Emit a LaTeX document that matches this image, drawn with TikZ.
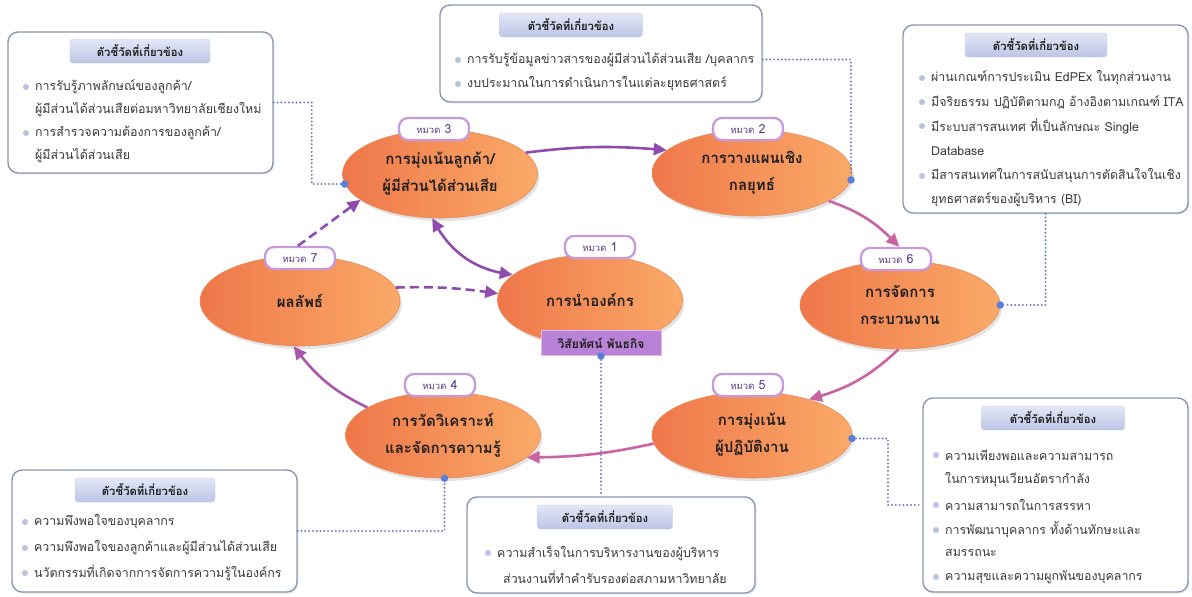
\documentclass[tikz,border=0pt]{standalone}
\usepackage{fontspec}
\setmainfont{Loma}[Script=Thai]
\usetikzlibrary{shapes.geometric,arrows.meta,shadows,bending}
\definecolor{oraL}{HTML}{EF774A}
\definecolor{oraR}{HTML}{FAAA68}
\definecolor{oraD}{HTML}{E98A5A}
\definecolor{tabB}{HTML}{C79BDB}
\definecolor{tabT}{HTML}{5B3A8C}
\definecolor{arrP}{HTML}{8E4DAE}
\definecolor{arrK}{HTML}{C963A3}
\definecolor{arrM}{HTML}{A957A8}
\definecolor{boxB}{HTML}{8A97B0}
\definecolor{pillT}{HTML}{E3E7F6}
\definecolor{pillB}{HTML}{BCC5E5}
\definecolor{pillD}{HTML}{C4CCE6}
\definecolor{bulC}{HTML}{BAC3DC}
\definecolor{dotB}{HTML}{5A7FD8}
\definecolor{dotL}{HTML}{6F80C2}
\definecolor{visF}{HTML}{B883D6}
\definecolor{visD}{HTML}{E2B9EA}
\definecolor{ink}{HTML}{1E1E1E}
\definecolor{txt}{HTML}{3A3A3A}
\begin{document}
\begin{tikzpicture}[x=1pt,y=-1pt,
  ell/.style={ellipse, inner sep=0pt, align=center, left color=oraL, right color=oraR,
    draw=oraD, line width=0.6pt, font=\fontsize{15}{27}\selectfont\bfseries, text=ink,
    drop shadow={shadow xshift=2pt,shadow yshift=-3pt,opacity=0.22}},
  tab/.style={rectangle, rounded corners=9pt, draw=tabB, line width=2.3pt, fill=white,
    minimum width=70pt, minimum height=22pt, inner sep=0pt, text=tabT,
    font=\fontsize{12.5}{12.5}\selectfont},
  infobox/.style={rectangle, rounded corners=10pt, draw=boxB, line width=1.4pt, fill=white,
    inner sep=0pt, drop shadow={shadow xshift=1.5pt,shadow yshift=-1.5pt,opacity=0.15}},
  pill/.style={rectangle, rounded corners=3pt, top color=pillT, bottom color=pillB,
    draw=pillD, line width=0.4pt, inner sep=0pt, minimum height=24pt,
    font=\fontsize{11.3}{11.3}\selectfont\bfseries, text=ink},
  itm/.style={anchor=west, inner sep=0pt, font=\fontsize{12.4}{12.4}\selectfont, text=txt},
  bul/.style={circle, fill=bulC, inner sep=0pt, minimum size=6pt},
  bdot/.style={circle, fill=dotB, inner sep=0pt, minimum size=7.5pt},
  dotline/.style={draw=dotL, line width=2.2pt, line cap=round, dash pattern=on 0pt off 3.8pt},
  arr/.style={line width=2.6pt, -{Triangle[length=13pt,width=12pt]}},
  darr/.style={line width=2.6pt, {Triangle[length=13pt,width=12pt]}-{Triangle[length=13pt,width=12pt]}},
  dsh/.style={arr, dash pattern=on 9pt off 5pt},
  vis/.style={rectangle, fill=visF, draw=visD, line width=1pt, inner sep=0pt,
    minimum width=120pt, minimum height=25pt, font=\fontsize{12}{12}\selectfont\bfseries, text=ink}
]
\useasboundingbox (0,0) rectangle (1192,597);
\fill[white] (0,0) rectangle (1192,597);

% ---------- ellipses ----------
\node[ell, minimum width=195pt, minimum height=88pt] (e3) at (440,174) {การมุ่งเน้นลูกค้า/\\ผู้มีส่วนได้ส่วนเสีย};
\node[ell, minimum width=200pt, minimum height=86pt] (e2) at (752,173) {การวางแผนเชิง\\กลยุทธ์};
\node[ell, minimum width=185pt, minimum height=90pt] (e1) at (590,300) {การนำองค์กร};
\node[ell, minimum width=200pt, minimum height=90pt] (e7) at (300,301) {ผลลัพธ์};
\node[ell, minimum width=200pt, minimum height=88pt] (e6) at (900,305) {การจัดการ\\กระบวนงาน};
\node[ell, minimum width=200pt, minimum height=86pt] (e5) at (752,435) {การมุ่งเน้น\\ผู้ปฏิบัติงาน};
\node[ell, minimum width=195pt, minimum height=86pt] (e4) at (443,435) {การวัดวิเคราะห์\\และจัดการความรู้};

% ---------- tabs ----------
\node[tab] (t3) at (434,129) {{\fontsize{9.5}{10}\selectfont หมวด} 3};
\node[tab] (t2) at (748,129) {{\fontsize{9.5}{10}\selectfont หมวด} 2};
\node[tab] (t1) at (600,247) {{\fontsize{9.5}{10}\selectfont หมวด} 1};
\node[tab] (t7) at (300,258) {{\fontsize{9.5}{10}\selectfont หมวด} 7};
\node[tab] (t6) at (896,259) {{\fontsize{9.5}{10}\selectfont หมวด} 6};
\node[tab] (t4) at (440,385) {{\fontsize{9.5}{10}\selectfont หมวด} 4};
\node[tab] (t5) at (748,385) {{\fontsize{9.5}{10}\selectfont หมวด} 5};

\node[vis] (vs) at (601,343) {วิสัยทัศน์ พันธกิจ};

% ---------- arrows ----------
\draw[arr, draw=arrP] (e3.14) to[bend left=6] (e2.165);
\draw[arr, draw=arrK] (e2.340) to[bend left=14] (t6.75);
\draw[arr, draw=arrK] (e6.268) to[bend left=14] (e5.32);
\draw[arr, draw=arrK] (e5.185) to[bend left=6] (e4.345);
\draw[arr, draw=arrM] (e4.160) to[bend left=14] (e7.262);
\draw[dsh, draw=arrP] (t7.100) -- (e3.198);
\draw[dsh, draw=arrP] (e7.8) to[bend left=5] (e1.176);
\draw[darr, draw=arrP] (e3.260) to[bend right=28] (e1.162);

% ---------- info boxes ----------
\node[infobox, minimum width=265pt, minimum height=141pt] (bA) at (140.5,102.5) {};
\node[infobox, minimum width=322pt, minimum height=97pt] (bB) at (601,53.5) {};
\node[infobox, minimum width=285pt, minimum height=188pt] (bC) at (1045.5,119) {};
\node[infobox, minimum width=285pt, minimum height=122pt] (bD) at (154.5,531) {};
\node[infobox, minimum width=288pt, minimum height=96pt] (bE) at (611,545) {};
\node[infobox, minimum width=265pt, minimum height=194pt] (bF) at (1055.5,495) {};

\node[pill, minimum width=140pt] (pA) at (140,51) {ตัวชี้วัดที่เกี่ยวข้อง};
\node[pill, minimum width=143pt] (pB) at (571,25) {ตัวชี้วัดที่เกี่ยวข้อง};
\node[pill, minimum width=142pt] (pC) at (1036,45) {ตัวชี้วัดที่เกี่ยวข้อง};
\node[pill, minimum width=140pt] (pD) at (145,490) {ตัวชี้วัดที่เกี่ยวข้อง};
\node[pill, minimum width=135pt] (pE) at (605,517) {ตัวชี้วัดที่เกี่ยวข้อง};
\node[pill, minimum width=143pt] (pF) at (1053,418) {ตัวชี้วัดที่เกี่ยวข้อง};

% box A
\node[bul] (ba1) at (26,87) {};
\node[itm] (a1) at (35,87) {การรับรู้ภาพลักษณ์ของลูกค้า/};
\node[itm] (a2) at (35,110) {ผู้มีส่วนได้ส่วนเสียต่อมหาวิทยาลัยเชียงใหม่};
\node[bul] (ba3) at (26,133) {};
\node[itm] (a3) at (35,133) {การสำรวจความต้องการของลูกค้า/};
\node[itm] (a4) at (35,156) {ผู้มีส่วนได้ส่วนเสีย};
% box B
\node[bul] (bb1) at (458,60) {};
\node[itm] (b1) at (467,60) {การรับรู้ข้อมูลข่าวสารของผู้มีส่วนได้ส่วนเสีย /บุคลากร};
\node[bul] (bb2) at (458,84) {};
\node[itm] (b2) at (467,84) {งบประมาณในการดำเนินการในแต่ละยุทธศาสตร์};
% box C
\node[bul] (bc1) at (922,78) {};
\node[itm] (c1) at (931,78) {ผ่านเกณฑ์การประเมิน EdPEx ในทุกส่วนงาน};
\node[bul] (bc2) at (922,102) {};
\node[itm] (c2) at (931,102) {มีจริยธรรม ปฏิบัติตามกฎ อ้างอิงตามเกณฑ์ ITA};
\node[bul] (bc3) at (922,126) {};
\node[itm] (c3) at (931,126) {มีระบบสารสนเทศ ที่เป็นลักษณะ Single};
\node[itm] (c4) at (931,151) {Database};
\node[bul] (bc5) at (922,176) {};
\node[itm] (c5) at (931,176) {มีสารสนเทศในการสนับสนุนการตัดสินใจในเชิง};
\node[itm] (c6) at (931,200) {ยุทธศาสตร์ของผู้บริหาร (BI)};
% box D
\node[bul] (bd1) at (25,522) {};
\node[itm] (d1) at (34,522) {ความพึงพอใจของบุคลากร};
\node[bul] (bd2) at (25,548) {};
\node[itm] (d2t) at (34,548) {ความพึงพอใจของลูกค้าและผู้มีส่วนได้ส่วนเสีย};
\node[bul] (bd3) at (25,573) {};
\node[itm] (d3t) at (34,573) {นวัตกรรมที่เกิดจากการจัดการความรู้ในองค์กร};
% box E
\node[bul] (be1) at (488,553) {};
\node[itm] (x1) at (497,553) {ความสำเร็จในการบริหารงานของผู้บริหาร};
\node[itm] (x2) at (503,577) {ส่วนงานที่ทำคำรับรองต่อสภามหาวิทยาลัย};
% box F
\node[bul] (bf1) at (936,455) {};
\node[itm] (f1) at (945,455) {ความเพียงพอและความสามารถ};
\node[itm] (f2) at (945,480) {ในการหมุนเวียนอัตรากำลัง};
\node[bul] (bf3) at (936,505) {};
\node[itm] (f3) at (945,505) {ความสามารถในการสรรหา};
\node[bul] (bf4) at (936,530) {};
\node[itm] (f4) at (945,530) {การพัฒนาบุคลากร ทั้งด้านทักษะและ};
\node[itm] (f5) at (945,553) {สมรรถนะ};
\node[bul] (bf6) at (936,577) {};
\node[itm] (f6) at (945,577) {ความสุขและความผูกพันของบุคลากร};

% ---------- dotted connectors ----------
\node[bdot] (d3) at (e3.186) {};
\node[bdot] (d2) at (e2.356) {};
\node[bdot] (d6) at (e6.east) {};
\node[bdot] (d5) at (e5.358) {};
\node[bdot] (d4) at (e4.272) {};
\node[bdot] (dv) at (vs.south) {};

\draw[dotline] (bA.east) -- ++(38,0) |- (d3);
\draw[dotline] ([yshift=-6pt]bB.east) -| (d2);
\draw[dotline] (bC.south) |- (d6);
\draw[dotline] (bD.east) -| (d4);
\draw[dotline] (dv) -- (dv |- bE.north);
\draw[dotline] (d5) -- ++(36,0) |- ([yshift=-10pt]bF.west);
\end{tikzpicture}
\end{document}
